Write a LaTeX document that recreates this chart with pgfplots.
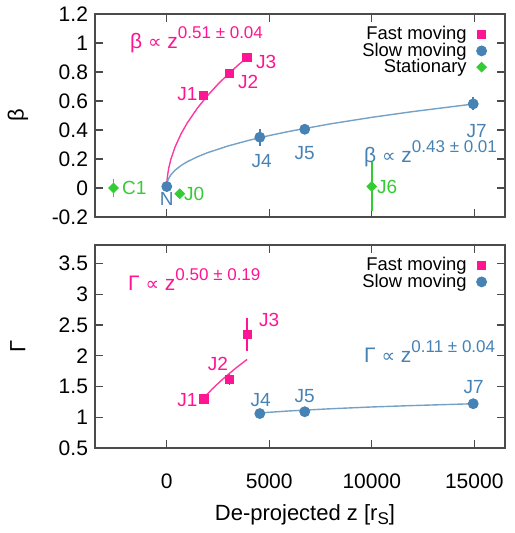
\documentclass[border=0pt]{standalone}
\usepackage{fontspec}
\setmainfont{Liberation Sans}
\newfontfamily\symfont{DejaVu Sans}
\usepackage{pgfplots}
\pgfplotsset{compat=1.18}

\definecolor{fastc}{RGB}{255,20,147}
\definecolor{slowc}{RGB}{70,130,180}
\definecolor{statc}{RGB}{51,204,51}
\definecolor{framec}{RGB}{75,75,75}

\newcommand{\powr}[1]{\raisebox{0.9ex}{\fontsize{8.5}{9}\selectfont #1}}
\newcommand{\prop}{{\symfont\fontsize{9.5}{10}\selectfont ∝}}
\newcommand{\annfont}{\fontsize{9.5}{11}\selectfont}
\newcommand{\fitfont}{\fontsize{10.5}{12}\selectfont}

% ---------- velocity (beta) ----------
\pgfplotstableread{
x y ey
1800 0.64 0.02
3070 0.79 0.02
3915 0.90 0.02
}\fastbeta
\pgfplotstableread{
x y ey
0 0.01 0.02
4540 0.35 0.06
6730 0.405 0.02
14950 0.58 0.045
}\slowbeta
\pgfplotstableread{
x y ey
-2600 0.00 0.06
630 -0.04 0.01
10000 0.01 0.17
}\statbeta
% power-law fit, beta ~ z^0.51 (fast components)
\pgfplotstableread{
x y
0 0
20 0.0610
50 0.0974
100 0.1387
200 0.1975
400 0.2812
700 0.3741
1000 0.4486
1500 0.5518
2000 0.6389
2500 0.7160
3000 0.7857
3500 0.8500
3915 0.9000
}\fastbetafit
% power-law fit, beta ~ z^0.43 (slow components)
\pgfplotstableread{
x y
0 0
20 0.0337
50 0.0499
100 0.0672
200 0.0906
400 0.1221
700 0.1553
1000 0.1810
1500 0.2155
2000 0.2439
3000 0.2903
4000 0.3285
5000 0.3616
6000 0.3912
8000 0.4427
10000 0.4872
12000 0.5269
15000 0.5800
}\slowbetafit

% ---------- Lorentz factor (Gamma) ----------
\pgfplotstableread{
x y ey
1820 1.30 0.03
3070 1.62 0.09
3920 2.35 0.27
}\fastgamma
\pgfplotstableread{
x y ey
4540 1.06 0.02
6730 1.09 0.02
14950 1.22 0.02
}\slowgamma
\pgfplotstableread{
x y
1800 1.315
2200 1.453
2600 1.580
3000 1.697
3400 1.807
3920 1.940
}\fastgammafit
\pgfplotstableread{
x y
4540 1.070
6000 1.103
8000 1.138
10000 1.167
12000 1.190
15000 1.220
}\slowgammafit

\tikzset{
  ann/.style={font=\annfont, inner sep=0.5pt},
  fitann/.style={font=\fitfont, inner sep=0.5pt, anchor=west},
}

\pgfplotsset{
  panel/.style={
    width=205pt, height=101.5pt, scale only axis,
    xmin=-3500, xmax=16500,
    xtick={0,5000,10000,15000},
    scaled x ticks=false, scaled y ticks=false,
    tick align=inside, major tick length=4pt,
    axis line style={framec, line width=0.6pt},
    tick style={framec, line width=0.6pt},
    /pgf/number format/assume math mode=true,
    /pgf/number format/set thousands separator={},
    tick label style={font=\fontsize{10.5}{12}\selectfont},
    label style={font=\fontsize{11}{13}\selectfont},
    ylabel style={at={(axis description cs:-0.188,0.5)}, anchor=center},
    legend cell align=right,
    legend plot pos=right,
    legend style={draw=none, fill=none, font=\fontsize{9.2}{10}\selectfont,
      at={(axis description cs:1,1)}, anchor=north east,
      xshift=-8pt, yshift=-3pt, row sep=-4pt, column sep=3pt, inner sep=1pt},
    clip=false,
  },
  fitline/.style={line width=0.7pt, no marks, forget plot},
  ebars/.style={error bars/.cd, y dir=both, y explicit, error mark=none,
    error bar style={solid, line width=0.75pt, draw=#1}},
  diam/.style={only marks, mark=square*, mark size=1.7pt, mark options={rotate=45}},
}

\begin{document}
\begin{tikzpicture}
\path[use as bounding box] (0,0) rectangle (257pt,266.5pt);

% upper panel: apparent speed
\begin{axis}[panel, at={(47.5pt,158pt)}, anchor=south west,
  ymin=-0.2, ymax=1.2, ytick={-0.2,0,0.2,0.4,0.6,0.8,1,1.2},
  xticklabels={}, ylabel={β},
  yticklabel style={/pgf/number format/fixed}]
  \addplot[fitline, fastc!85!white] table {\fastbetafit};
  \addplot[fitline, slowc!75!white] table {\slowbetafit};
  \addplot[only marks, mark=square*, mark size=2.1pt, color=fastc, ebars=fastc]
    table[y error=ey] {\fastbeta};
  \addlegendentry{Fast moving}
  \addplot[only marks, mark=*, mark size=2.5pt, color=slowc, ebars=slowc]
    table[y error=ey] {\slowbeta};
  \addlegendentry{Slow moving}
  \addplot[diam, color=statc, ebars=statc]
    table[y error=ey] {\statbeta};
  \addlegendentry{Stationary}

  \node[fastc, fitann] at (axis cs:-1854,1.02) {β \prop\ z\powr{0.51 ± 0.04}};
  \node[slowc, fitann] at (axis cs:9560,0.236) {β \prop\ z\powr{0.43 ± 0.01}};
  \node[fastc, ann, anchor=east] at (axis cs:1561,0.646) {J1};
  \node[fastc, ann, anchor=west] at (axis cs:3415,0.729) {J2};
  \node[fastc, ann, anchor=west] at (axis cs:4293,0.868) {J3};
  \node[slowc, ann] at (axis cs:0,-0.076) {N};
  \node[slowc, ann] at (axis cs:4630,0.188) {J4};
  \node[slowc, ann] at (axis cs:6730,0.243) {J5};
  \node[slowc, ann] at (axis cs:15120,0.396) {J7};
  \node[statc, ann, anchor=west] at (axis cs:-2244,0) {C1};
  \node[statc, ann, anchor=west] at (axis cs:780,-0.042) {J0};
  \node[statc, ann, anchor=west] at (axis cs:10195,0.007) {J6};
\end{axis}

% lower panel: Lorentz factor
\begin{axis}[panel, at={(47.5pt,42.5pt)}, anchor=south west,
  ymin=0.5, ymax=3.8, ytick={0.5,1,1.5,2,2.5,3,3.5},
  ylabel={Γ},
  xlabel={De-projected z [r\raisebox{-0.35ex}{\fontsize{8.5}{9}\selectfont S}]},
  xticklabel style={yshift=-9.5pt},
  xlabel style={at={(axis description cs:0.512,-0.33)}, anchor=center}]
  \addplot[fitline, fastc!85!white] table {\fastgammafit};
  \addplot[fitline, slowc!75!white] table {\slowgammafit};
  \addplot[only marks, mark=square*, mark size=2.1pt, color=fastc, ebars=fastc]
    table[y error=ey] {\fastgamma};
  \addlegendentry{Fast moving}
  \addplot[only marks, mark=*, mark size=2.5pt, color=slowc, ebars=slowc]
    table[y error=ey] {\slowgamma};
  \addlegendentry{Slow moving}

  \node[fastc, fitann] at (axis cs:-1951,3.24) {Γ \prop\ z\powr{0.50 ± 0.19}};
  \node[slowc, fitann] at (axis cs:9560,2.06) {Γ \prop\ z\powr{0.11 ± 0.04}};
  \node[fastc, ann, anchor=east] at (axis cs:1561,1.273) {J1};
  \node[fastc, ann] at (axis cs:2490,1.863) {J2};
  \node[fastc, ann, anchor=west] at (axis cs:4439,2.58) {J3};
  \node[slowc, ann] at (axis cs:4585,1.273) {J4};
  \node[slowc, ann] at (axis cs:6730,1.339) {J5};
  \node[slowc, ann] at (axis cs:14975,1.486) {J7};
\end{axis}
\end{tikzpicture}
\end{document}
